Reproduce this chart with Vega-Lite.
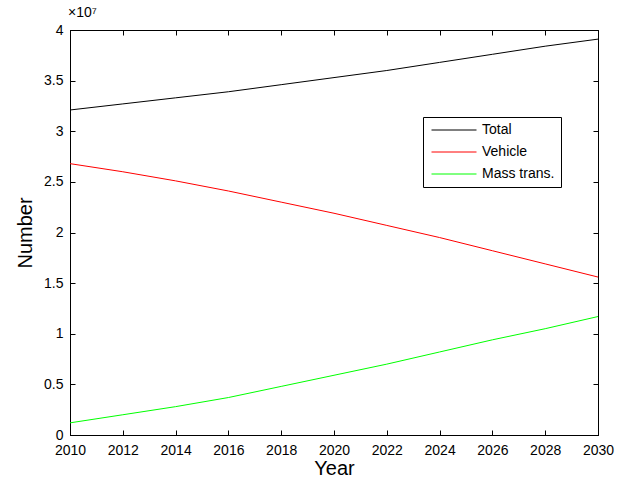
{
  "$schema": "https://vega.github.io/schema/vega-lite/v6.json",
  "width": 528,
  "height": 405,
  "padding": {"left": 15, "top": 6, "right": 5, "bottom": 5},
  "background": "white",
  "config": {
    "font": "Liberation Sans",
    "view": {"stroke": "black", "strokeWidth": 1},
    "axis": {"grid": false, "domainColor": "black", "tickColor": "black", "labelColor": "black", "titleColor": "black", "labelFont": "Liberation Sans", "titleFont": "Liberation Sans", "labelFontSize": 14, "titleFontSize": 20, "titleFontWeight": "normal", "tickSize": -5, "labelFlush": false, "labelOverlap": false}
  },
  "title": {"text": "×10⁷", "anchor": "start", "frame": "group", "fontSize": 14, "fontWeight": "normal", "font": "Liberation Sans", "offset": 3, "color": "black", "dx": -2},
  "data": {
    "values": [
      {"year": 2010, "series": "Total", "value": 3.21},
      {"year": 2012, "series": "Total", "value": 3.27},
      {"year": 2014, "series": "Total", "value": 3.33},
      {"year": 2016, "series": "Total", "value": 3.39},
      {"year": 2018, "series": "Total", "value": 3.46},
      {"year": 2020, "series": "Total", "value": 3.53},
      {"year": 2022, "series": "Total", "value": 3.60},
      {"year": 2024, "series": "Total", "value": 3.68},
      {"year": 2026, "series": "Total", "value": 3.76},
      {"year": 2028, "series": "Total", "value": 3.84},
      {"year": 2030, "series": "Total", "value": 3.91},
      {"year": 2010, "series": "Vehicle", "value": 2.68},
      {"year": 2012, "series": "Vehicle", "value": 2.60},
      {"year": 2014, "series": "Vehicle", "value": 2.51},
      {"year": 2016, "series": "Vehicle", "value": 2.41},
      {"year": 2018, "series": "Vehicle", "value": 2.30},
      {"year": 2020, "series": "Vehicle", "value": 2.19},
      {"year": 2022, "series": "Vehicle", "value": 2.07},
      {"year": 2024, "series": "Vehicle", "value": 1.95},
      {"year": 2026, "series": "Vehicle", "value": 1.82},
      {"year": 2028, "series": "Vehicle", "value": 1.69},
      {"year": 2030, "series": "Vehicle", "value": 1.56},
      {"year": 2010, "series": "Mass trans.", "value": 0.12},
      {"year": 2012, "series": "Mass trans.", "value": 0.20},
      {"year": 2014, "series": "Mass trans.", "value": 0.28},
      {"year": 2016, "series": "Mass trans.", "value": 0.37},
      {"year": 2018, "series": "Mass trans.", "value": 0.48},
      {"year": 2020, "series": "Mass trans.", "value": 0.59},
      {"year": 2022, "series": "Mass trans.", "value": 0.70},
      {"year": 2024, "series": "Mass trans.", "value": 0.82},
      {"year": 2026, "series": "Mass trans.", "value": 0.94},
      {"year": 2028, "series": "Mass trans.", "value": 1.05},
      {"year": 2030, "series": "Mass trans.", "value": 1.17}
    ]
  },
  "layer": [
    {
      "mark": {"type": "line", "strokeWidth": 1},
      "encoding": {
        "x": {"field": "year", "type": "quantitative", "scale": {"domain": [2010, 2030], "nice": false, "zero": false}, "axis": {"title": "Year", "values": [2010, 2012, 2014, 2016, 2018, 2020, 2022, 2024, 2026, 2028, 2030], "format": "d", "labelPadding": 13, "titlePadding": 1}},
        "y": {"field": "value", "type": "quantitative", "scale": {"domain": [0, 4], "nice": false}, "axis": {"title": "Number", "values": [0, 0.5, 1, 1.5, 2, 2.5, 3, 3.5, 4], "format": "~g", "labelPadding": 12, "titlePadding": 8}},
        "color": {"field": "series", "type": "nominal", "scale": {"domain": ["Total", "Vehicle", "Mass trans."], "range": ["#000000", "#ff0000", "#00ff00"]},
          "legend": {"title": null, "orient": "none", "legendX": 353, "legendY": 87, "symbolType": "M-4.5,0H4.5", "symbolSize": 100, "symbolStrokeWidth": 1, "symbolOffset": 18, "labelFontSize": 14, "labelFont": "Liberation Sans", "labelColor": "black", "fillColor": "white", "strokeColor": "black", "padding": 6, "rowPadding": 8, "labelOffset": 21}}
      }
    },
    {
      "mark": {"type": "point", "opacity": 0},
      "encoding": {
        "x": {"field": "year", "type": "quantitative", "axis": {"orient": "top", "title": null, "labels": false, "values": [2010, 2012, 2014, 2016, 2018, 2020, 2022, 2024, 2026, 2028, 2030]}},
        "y": {"field": "value", "type": "quantitative", "axis": {"orient": "right", "title": null, "labels": false, "values": [0, 0.5, 1, 1.5, 2, 2.5, 3, 3.5, 4]}}
      }
    }
  ],
  "resolve": {"axis": {"x": "independent", "y": "independent"}}
}
